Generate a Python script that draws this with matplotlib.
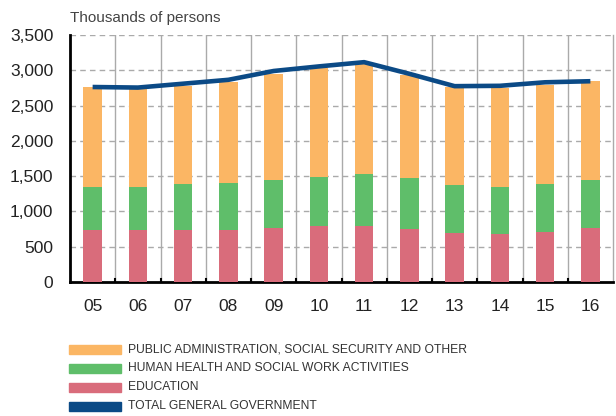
import matplotlib.pyplot as plt
import numpy as np
from matplotlib.patches import Rectangle

years = ['05', '06', '07', '08', '09', '10', '11', '12', '13', '14', '15', '16']
education = [743, 743, 743, 743, 772, 790, 790, 757, 701, 681, 715, 762]
health = [597, 600, 639, 662, 671, 700, 745, 710, 671, 663, 667, 681]
public_admin = [1423, 1412, 1395, 1433, 1500, 1538, 1550, 1466, 1386, 1400, 1409, 1400]
total_gov = [2763, 2755, 2810, 2865, 2990, 3055, 3115, 2950, 2775, 2780, 2830, 2845]

c_pub = '#FBB664'
c_health = '#5FBE6A'
c_edu = '#D96C7B'
c_total = '#0B4A86'

plt.rcParams['font.family'] = ['Liberation Sans', 'DejaVu Sans']

fig = plt.figure(figsize=(6.16, 4.16), dpi=100)
ax = fig.add_axes([70/616, 1 - 282/416, 543/616, 247/416])

x = np.arange(len(years))
w = 0.41
edu = np.array(education)
hl = np.array(health)
ax.bar(x, edu, w, color=c_edu, zorder=3)
ax.bar(x, hl, w, bottom=edu, color=c_health, zorder=3)
ax.bar(x, public_admin, w, bottom=edu + hl, color=c_pub, zorder=3)
ax.plot(x, total_gov, color=c_total, lw=3.3, zorder=4, solid_capstyle='butt')

ax.set_xlim(-0.5, len(years) - 0.5)
ax.set_ylim(0, 3500)
ax.set_yticks(np.arange(0, 3501, 500))
ax.set_yticklabels([f'{v:,}' for v in range(0, 3501, 500)], fontsize=12.5, color='#222222')
ax.set_xticks(x)
ax.set_xticklabels(years, fontsize=12.5, color='#222222')
ax.tick_params(axis='y', length=0, pad=12)
ax.tick_params(axis='x', length=0, pad=12)

for v in range(500, 3501, 500):
    ax.axhline(v, color='#AAAAAA', lw=1, ls=(0, (4, 3)), zorder=1)
for b in np.arange(0.5, len(years) - 0.5, 1):
    ax.axvline(b, color='#AAAAAA', lw=1, zorder=1)
    ax.plot([b, b], [0, 45], color='black', lw=1.5, zorder=5)

ax.spines['top'].set_visible(False)
ax.spines['right'].set_color('#AAAAAA')
ax.spines['right'].set_linewidth(1)
ax.spines['left'].set_linewidth(2)
ax.spines['bottom'].set_linewidth(2)

fig.text(70/616, 1 - 18/416, 'Thousands of persons', fontsize=11, color='#444444', va='center')

# legend, drawn by hand to sit where the original does
labels = ['PUBLIC ADMINISTRATION, SOCIAL SECURITY AND OTHER',
          'HUMAN HEALTH AND SOCIAL WORK ACTIVITIES',
          'EDUCATION',
          'TOTAL GENERAL GOVERNMENT']
colors = [c_pub, c_health, c_edu, c_total]
for i, (lab, col) in enumerate(zip(labels, colors)):
    yc = 349 + 19 * i
    fig.patches.append(Rectangle((69/616, 1 - (yc + 4.5)/416), 52/616, 9/416,
                                 transform=fig.transFigure, color=col, figure=fig))
    fig.text(128/616, 1 - yc/416, lab, fontsize=8.7, color='#333333', va='center')

fig.savefig('out.png', dpi=100)
